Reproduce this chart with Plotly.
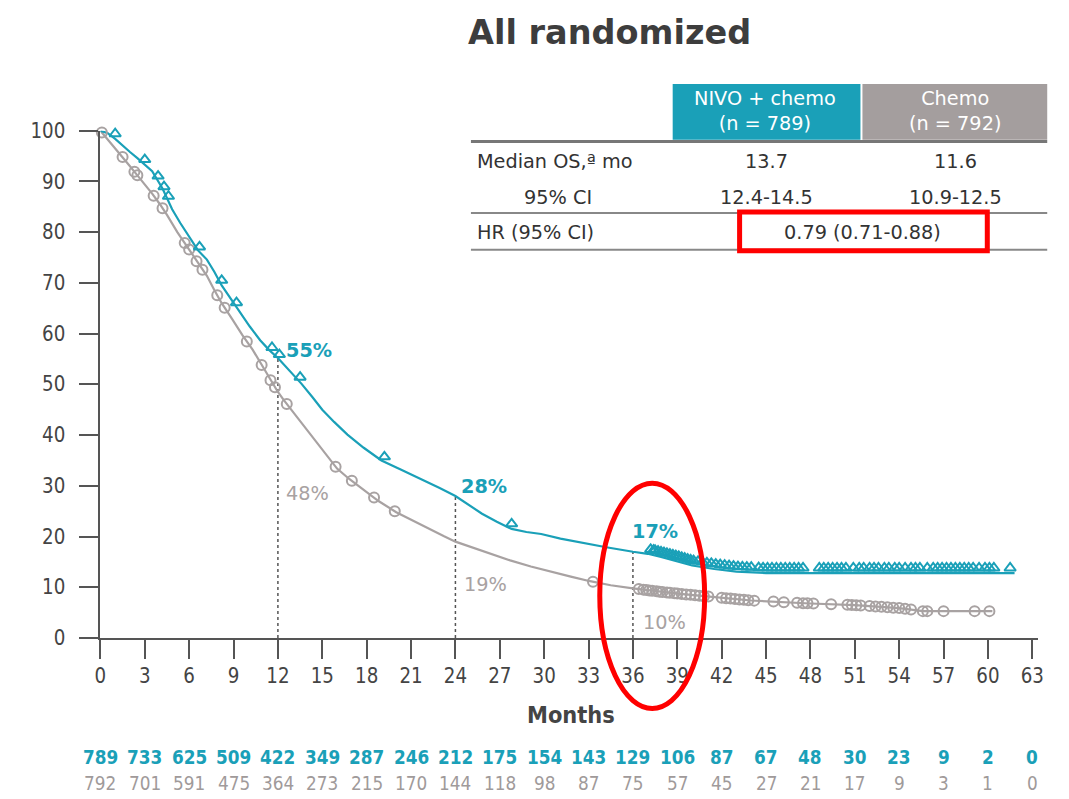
import numpy as np
import plotly.graph_objects as go

# ---------------- data ----------------
months_ticks = list(range(0, 64, 3))
nivo_t = [0, 0.5, 1.0, 1.5, 2.0, 2.5, 3.0, 3.5, 4.2, 4.85, 5.4, 6.0, 6.6, 7.2, 7.7, 8.2, 8.8, 9.4, 10.1, 10.8, 11.4, 12.0,
          12.8, 13.6, 14.3, 15.0, 15.8, 16.7, 17.8, 19.0, 20.3, 21.7, 22.9, 24.0, 24.9, 25.8, 26.8, 27.8, 28.8, 29.8,
          31.1, 32.5, 34.2, 36.0, 37.0, 37.9, 39.2, 40.0, 41.5, 43.0, 45.0, 50.0, 55.0, 61.8]
nivo_s = [100, 99.5, 98.4, 97.0, 95.8, 94.6, 93.3, 92.0, 88.6, 84.5, 81.8, 79.2, 76.4, 74.6, 72.2, 69.5, 66.9, 64.2, 61.4, 58.7, 56.8, 55.2,
          52.6, 50.1, 47.6, 45.0, 42.6, 40.1, 37.5, 35.0, 33.2, 31.3, 29.6, 28.0, 26.2, 24.5, 22.9, 21.5, 20.9, 20.5,
          19.6, 18.8, 17.9, 17.0, 16.6, 16.0, 15.0, 14.3, 13.6, 13.1, 12.8, 12.8, 12.8, 12.8]
chemo_t = [0, 0.5, 1.0, 1.5, 2.0, 2.5, 3.0, 3.5, 4.0, 4.5, 5.2, 6.0, 6.6, 7.2, 7.7, 8.2, 8.9, 9.6, 10.3, 10.9, 11.5, 12.0,
           12.4, 12.9, 13.6, 14.3, 15.1, 16.0, 16.8, 17.7, 18.8, 20.0, 21.2, 22.4, 23.2, 24.0, 25.2, 26.4, 27.7, 29.1,
           30.4, 31.8, 33.1, 34.5, 36.0, 37.6, 39.2, 41.0, 44.0, 48.0, 51.0, 54.0, 55.6, 60.3]
chemo_s = [100, 98.3, 96.6, 94.8, 93.0, 91.2, 89.5, 87.6, 85.6, 83.4, 80.0, 76.6, 73.8, 71.4, 68.6, 66.0, 62.9, 59.7, 56.8, 53.8, 50.8, 48.5,
           46.9, 45.0, 42.3, 39.7, 36.6, 33.4, 31.4, 29.5, 27.0, 24.8, 23.0, 21.3, 20.1, 19.0, 17.8, 16.6, 15.3, 14.1,
           13.1, 12.1, 11.2, 10.4, 9.8, 9.2, 8.7, 8.2, 7.4, 6.8, 6.5, 5.9, 5.3, 5.3]
nivo_censor = [1.0, 3.0, 3.9, 4.3, 4.6, 6.7, 8.2, 9.2, 11.6, 12.1, 13.5, 19.2, 27.8,
               37.2, 37.4, 37.5, 37.7, 37.9, 38.1, 38.3, 38.5, 38.7, 38.9, 39.1, 39.3, 39.5, 39.7, 39.9, 40.1, 40.4,
               40.7, 41.0, 41.3, 41.6, 41.9, 42.2, 42.5, 42.8, 43.1, 43.4, 43.7, 44.0, 44.5, 44.8, 45.1, 45.4, 45.7,
               46.0, 46.3, 46.6, 46.9, 47.2, 47.5, 48.6, 48.9, 49.2, 49.5, 49.8, 50.1, 50.4, 50.9, 51.3, 51.6, 52.0,
               52.3, 52.6, 53.0, 53.3, 53.7, 54.0, 54.4, 54.8, 55.1, 55.4, 55.9, 56.3, 56.6, 56.9, 57.2, 57.5, 57.8,
               58.1, 58.4, 58.7, 59.0, 59.4, 59.8, 60.1, 60.4, 61.5]
chemo_censor = [0.1, 1.5, 2.3, 2.5, 3.6, 4.2, 5.7, 6.0, 6.5, 6.9, 7.9, 8.4, 9.9, 10.9, 11.5, 11.8, 12.6, 15.9, 17.0,
                18.5, 19.9, 33.3, 36.4, 36.7, 36.9, 37.1, 37.3, 37.6, 37.8, 38.0, 38.3, 38.5, 38.8, 39.0, 39.3, 39.6,
                39.9, 40.2, 40.5, 40.8, 41.1, 42.0, 42.3, 42.6, 42.9, 43.2, 43.5, 43.8, 44.2, 45.5, 46.2, 47.1, 47.5,
                47.8, 48.2, 49.4, 50.5, 50.8, 51.1, 51.4, 52.0, 52.4, 52.8, 53.2, 53.6, 54.0, 54.4, 54.8, 55.6, 55.9,
                57.0, 59.1, 60.1]
landmark_months = [12, 24, 36]
nivo_landmark = [55, 28, 17]
chemo_landmark = [48, 19, 10]
nivo_at_risk = [789, 733, 625, 509, 422, 349, 287, 246, 212, 175, 154, 143, 129, 106, 87, 67, 48, 30, 23, 9, 2, 0]
chemo_at_risk = [792, 701, 591, 475, 364, 273, 215, 170, 144, 118, 98, 87, 75, 57, 45, 27, 21, 17, 9, 3, 1, 0]
table_header = ["NIVO + chemo<br>(n = 789)", "Chemo<br>(n = 792)"]
table_rows = [["Median OS,ª mo", "13.7", "11.6"], ["95% CI", "12.4-14.5", "10.9-12.5"]]
hr_label = "HR (95% CI)"
hr_value = "0.79 (0.71-0.88)"

TEAL = "#1aa0b8"
GRAY = "#a8a2a2"
DARK = "#444444"

W, H = 1069, 799
# measured placement of the figure in the photographed page (offset and scale)
AX, SX = 12.5, 0.99
AY, SY = 17.5, 0.977
FS = 1.0 / 0.985


def px(r):
    return ((r - AX) / SX) / W


def py(r):
    return 1 - ((r - AY) / SY) / H


def fs(s):
    return s * FS


fig = go.Figure()

for m, n in zip(landmark_months, nivo_landmark):
    fig.add_trace(go.Scatter(x=[m, m], y=[0, n], mode="lines",
                             line=dict(color="#555555", width=1.5, dash="dot"),
                             hoverinfo="skip", showlegend=False))

fig.add_trace(go.Scatter(x=chemo_t, y=chemo_s, mode="lines", line=dict(color=GRAY, width=2.2),
                         showlegend=False, cliponaxis=False))
fig.add_trace(go.Scatter(x=nivo_t, y=nivo_s, mode="lines", line=dict(color=TEAL, width=2.2),
                         showlegend=False, cliponaxis=False))
fig.add_trace(go.Scatter(x=chemo_censor, y=np.interp(chemo_censor, chemo_t, chemo_s), mode="markers",
                         marker=dict(symbol="circle-open", size=10, color=GRAY, line=dict(width=2)),
                         showlegend=False, cliponaxis=False))
fig.add_trace(go.Scatter(x=nivo_censor, y=np.interp(nivo_censor, nivo_t, nivo_s) + 1.0, mode="markers",
                         marker=dict(symbol="triangle-up-open", size=10, color=TEAL, line=dict(width=2)),
                         showlegend=False, cliponaxis=False))

TICKFONT = dict(family="DejaVu Sans Condensed, DejaVu Sans", size=fs(20), color=DARK)

fig.update_layout(
    width=W, height=H, margin=dict(l=0, r=0, t=0, b=0),
    paper_bgcolor="white", plot_bgcolor="white",
    xaxis=dict(domain=[px(99), px(1038)], range=[0, 63.4], tickvals=months_ticks,
               showgrid=False, zeroline=False, showline=True, linecolor="#555555", linewidth=2,
               ticks="outside", ticklen=19, tickwidth=2, tickcolor="#555555", tickfont=TICKFONT,
               ticklabelstandoff=0),
    yaxis=dict(domain=[py(640), py(129)], range=[0, 100], tickvals=list(range(0, 101, 10)),
               showgrid=False, zeroline=False, showline=True, linecolor="#555555", linewidth=2,
               ticks="outside", ticklen=19, tickwidth=2, tickcolor="#555555", tickfont=TICKFONT,
               ticklabelstandoff=10),
)

ann = []
ann.append(dict(x=px(609), y=1.01, xref="paper", yref="paper", text="<b>All randomized</b>", showarrow=False,
                font=dict(family="DejaVu Sans", size=fs(33), color="#3d3d3d"), xanchor="center", yanchor="top",
                borderpad=0))
ann.append(dict(x=px(570), y=py(718), xref="paper", yref="paper", text="<b>Months</b>", showarrow=False,
                font=dict(family="DejaVu Sans Condensed, DejaVu Sans", size=fs(23), color=DARK),
                xanchor="center", yanchor="middle"))

lab_pos_n = [(283, 350), (458, 487), (629, 533)]
lab_pos_c = [(283, 494), (461, 586), (640, 624)]
for (x, y), v in zip(lab_pos_n, nivo_landmark):
    ann.append(dict(x=px(x), y=py(y), xref="paper", yref="paper", text=f"<b>{v}%</b>", showarrow=False,
                    font=dict(family="DejaVu Sans", size=fs(19), color=TEAL), xanchor="left", yanchor="middle"))
for (x, y), v in zip(lab_pos_c, chemo_landmark):
    ann.append(dict(x=px(x), y=py(y), xref="paper", yref="paper", text=f"{v}%", showarrow=False,
                    font=dict(family="DejaVu Sans", size=fs(19), color=GRAY), xanchor="left", yanchor="middle"))

RISKFONT = "Liberation Sans Narrow, DejaVu Sans Condensed"
for m, a, b in zip(months_ticks, nivo_at_risk, chemo_at_risk):
    ann.append(dict(x=m, y=py(760), xref="x", yref="paper", text=f"<b>{a}</b>", showarrow=False,
                    font=dict(family=RISKFONT, size=fs(18.5), color=TEAL), xanchor="center", yanchor="middle",
                    borderpad=0))
    ann.append(dict(x=m, y=py(787), xref="x", yref="paper", text=f"{b}", showarrow=False,
                    font=dict(family=RISKFONT, size=fs(18.5), color="#a09a9a"), xanchor="center", yanchor="middle",
                    borderpad=0))

TF = dict(family="DejaVu Sans", size=fs(19), color="#333333")
HF = dict(family="DejaVu Sans", size=fs(19), color="white")
ann.append(dict(x=px(764), y=py(109), xref="paper", yref="paper", text=table_header[0], showarrow=False,
                font=HF, xanchor="center", yanchor="middle"))
ann.append(dict(x=px(955), y=py(109), xref="paper", yref="paper", text=table_header[1], showarrow=False,
                font=HF, xanchor="center", yanchor="middle"))
row_y = [160, 196]
for (lab, a, b), y in zip(table_rows, row_y):
    if lab.startswith("Median"):
        ann.append(dict(x=px(474), y=py(y), xref="paper", yref="paper", text=lab, showarrow=False,
                        font=TF, xanchor="left", yanchor="middle"))
    else:
        ann.append(dict(x=px(557), y=py(y), xref="paper", yref="paper", text=lab, showarrow=False,
                        font=TF, xanchor="center", yanchor="middle"))
    ann.append(dict(x=px(766), y=py(y), xref="paper", yref="paper", text=a, showarrow=False,
                    font=TF, xanchor="center", yanchor="middle"))
    ann.append(dict(x=px(955), y=py(y), xref="paper", yref="paper", text=b, showarrow=False,
                    font=TF, xanchor="center", yanchor="middle"))
ann.append(dict(x=px(474), y=py(232), xref="paper", yref="paper", text=hr_label, showarrow=False,
                font=TF, xanchor="left", yanchor="middle"))
ann.append(dict(x=px(862), y=py(232), xref="paper", yref="paper", text=hr_value, showarrow=False,
                font=TF, xanchor="center", yanchor="middle"))
fig.update_layout(annotations=ann)

shapes = [
    dict(type="rect", xref="paper", yref="paper", x0=px(672), x1=px(860), y0=py(82), y1=py(138),
         fillcolor=TEAL, line=dict(width=0), layer="below"),
    dict(type="rect", xref="paper", yref="paper", x0=px(862), x1=px(1047), y0=py(82), y1=py(138),
         fillcolor="#a49e9e", line=dict(width=0), layer="below"),
    dict(type="line", xref="paper", yref="paper", x0=px(470), x1=px(1047), y0=py(140), y1=py(140),
         line=dict(color="#777777", width=3)),
    dict(type="line", xref="paper", yref="paper", x0=px(470), x1=px(1047), y0=py(212), y1=py(212),
         line=dict(color="#888888", width=2)),
    dict(type="line", xref="paper", yref="paper", x0=px(470), x1=px(1047), y0=py(249), y1=py(249),
         line=dict(color="#888888", width=2)),
    dict(type="rect", xref="paper", yref="paper", x0=px(739), x1=px(987), y0=py(211), y1=py(250),
         line=dict(color="#ff0000", width=5)),
    dict(type="circle", xref="paper", yref="paper", x0=px(599), x1=px(704), y0=py(484), y1=py(711),
         line=dict(color="#ff0000", width=5)),
]
fig.update_layout(shapes=shapes)

fig.write_html("out.html")
